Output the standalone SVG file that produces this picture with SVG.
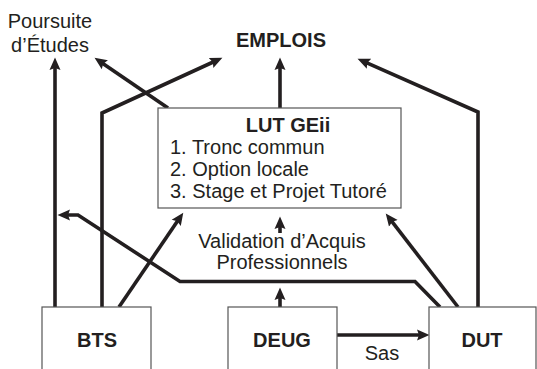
<svg xmlns="http://www.w3.org/2000/svg" width="537" height="369" viewBox="0 0 537 369">
<defs>
<style>
.t{font-family:"Liberation Sans",Arial,Helvetica,sans-serif;font-size:20px;fill:#231f20}
.b{font-weight:bold}
.box{fill:#fff;stroke:#555;stroke-width:1.2}
.c{fill:none;stroke:#231f20;stroke-width:3.6;stroke-linejoin:miter}
</style>
<marker id="ah" markerUnits="userSpaceOnUse" markerWidth="13" markerHeight="12" viewBox="0 0 13 12" refX="6" refY="6" orient="auto">
<path d="M0,0.5 L12.5,6 L0,11.5 L2,6 z" fill="#231f20"/>
</marker>
</defs>
<rect width="537" height="369" fill="#fff"/>
<g id="connectors">
<path class="c" d="M55,307 L55,64" marker-end="url(#ah)"/>
<path class="c" d="M102,307 L102,113 L216.5,60.5" marker-end="url(#ah)"/>
<path class="c" d="M168,108 L99.9,61.4" marker-end="url(#ah)"/>
<path class="c" d="M280,108 L280,64" marker-end="url(#ah)"/>
<path class="c" d="M478,307 L478,112 L363.5,61.4" marker-end="url(#ah)"/>
<path class="c" d="M119,307 L179.6,218" marker-end="url(#ah)"/>
<path class="c" d="M440,307 L415,281.5 L180,281.5 L78,215 L64,215" marker-end="url(#ah)"/>
<path class="c" d="M458,307 L389.7,218.7" marker-end="url(#ah)"/>
<path class="c" d="M280,233 L280,223" marker-end="url(#ah)"/>
<path class="c" d="M280,307 L280,294" marker-end="url(#ah)"/>
<path class="c" d="M337,335 L423,335" marker-end="url(#ah)"/>
</g>
<g id="poursuite">
<text class="t" x="50" y="28" text-anchor="middle">Poursuite</text>
<text class="t" x="50" y="52" text-anchor="middle">d’Études</text>
</g>
<g id="emplois">
<text class="t b" x="281" y="47" text-anchor="middle">EMPLOIS</text>
</g>
<g id="lut">
<rect class="box" x="158" y="108" width="243" height="100"/>
<text class="t b" x="288" y="132" text-anchor="middle">LUT GEii</text>
<text class="t" x="170" y="154">1. Tronc commun</text>
<text class="t" x="170" y="176">2. Option locale</text>
<text class="t" x="170" y="198">3. Stage et Projet Tutoré</text>
</g>
<g id="vap">
<text class="t" x="282" y="248" text-anchor="middle">Validation d’Acquis</text>
<text class="t" x="282" y="269" text-anchor="middle">Professionnels</text>
</g>
<g id="bts">
<rect class="box" x="42" y="307" width="109" height="70"/>
<text class="t b" x="97" y="347" text-anchor="middle">BTS</text>
</g>
<g id="deug">
<rect class="box" x="228" y="307" width="109" height="70"/>
<text class="t b" x="282" y="347" text-anchor="middle">DEUG</text>
</g>
<g id="dut">
<rect class="box" x="429" y="307" width="107" height="70"/>
<text class="t b" x="482" y="347" text-anchor="middle">DUT</text>
</g>
<g id="sas">
<text class="t" x="382" y="360" text-anchor="middle">Sas</text>
</g>
</svg>
